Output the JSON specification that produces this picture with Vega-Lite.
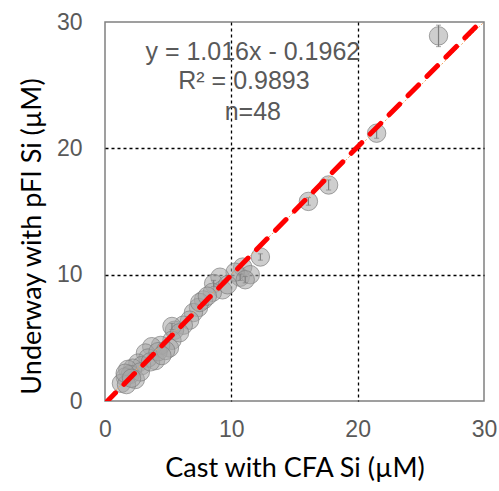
{
  "$schema": "https://vega.github.io/schema/vega-lite/v6.json",
  "width": 379,
  "height": 379,
  "autosize": {"type": "none"},
  "padding": {"left": 105, "top": 22, "right": 15, "bottom": 90},
  "background": "white",
  "config": {
    "view": {"stroke": "#808080", "strokeWidth": 1.5},
    "axis": {
      "grid": true,
      "gridColor": "#000000",
      "gridDash": [3, 3],
      "gridWidth": 1.3,
      "gridOpacity": {"condition": {"test": "datum.value == 0 || datum.value == 30", "value": 0}, "value": 1},
      "ticks": false,
      "domain": false,
      "labelFlush": false,
      "labelOverlap": false,
      "labelFont": "Liberation Sans",
      "labelFontSize": 23,
      "labelColor": "#595959",
      "titleFont": "Lato",
      "titleFontSize": 27,
      "titleFontWeight": "normal",
      "titleColor": "#000000"
    }
  },
  "datasets": {
    "pts": [
      {"cast": 26.4, "uw": 28.9, "lo": 28.05, "hi": 29.75},
      {"cast": 21.5, "uw": 21.2, "lo": 20.8, "hi": 21.6},
      {"cast": 17.7, "uw": 17.1, "lo": 16.7, "hi": 17.5},
      {"cast": 16.1, "uw": 15.8, "lo": 15.5, "hi": 16.1},
      {"cast": 12.3, "uw": 11.4, "lo": 11.15, "hi": 11.65},
      {"cast": 10.9, "uw": 10.6},
      {"cast": 10.7, "uw": 9.8, "lo": 9.55, "hi": 10.05},
      {"cast": 11.5, "uw": 10.0},
      {"cast": 10.3, "uw": 10.2},
      {"cast": 9.1, "uw": 9.8},
      {"cast": 8.6, "uw": 9.3, "lo": 9.05, "hi": 9.55},
      {"cast": 9.3, "uw": 8.8},
      {"cast": 8.5, "uw": 8.6},
      {"cast": 7.8, "uw": 8.0},
      {"cast": 7.4, "uw": 7.4},
      {"cast": 7.0, "uw": 7.0},
      {"cast": 6.7, "uw": 6.4},
      {"cast": 6.2, "uw": 6.0},
      {"cast": 5.5, "uw": 5.6},
      {"cast": 5.3, "uw": 5.9, "lo": 5.65, "hi": 6.15},
      {"cast": 5.3, "uw": 4.8},
      {"cast": 5.1, "uw": 4.2},
      {"cast": 4.4, "uw": 4.4},
      {"cast": 3.7, "uw": 4.3},
      {"cast": 3.2, "uw": 3.8},
      {"cast": 4.0, "uw": 3.2},
      {"cast": 3.4, "uw": 3.4},
      {"cast": 2.6, "uw": 3.0},
      {"cast": 2.9, "uw": 2.8},
      {"cast": 2.2, "uw": 2.6},
      {"cast": 1.8, "uw": 2.5},
      {"cast": 2.0, "uw": 2.1},
      {"cast": 1.6, "uw": 1.9},
      {"cast": 2.4, "uw": 1.7},
      {"cast": 1.3, "uw": 1.4},
      {"cast": 1.7, "uw": 1.3},
      {"cast": 2.8, "uw": 2.3},
      {"cast": 3.6, "uw": 3.1},
      {"cast": 4.2, "uw": 3.9},
      {"cast": 4.8, "uw": 4.0},
      {"cast": 4.5, "uw": 3.6},
      {"cast": 5.9, "uw": 5.4},
      {"cast": 7.5, "uw": 7.8},
      {"cast": 8.1, "uw": 8.3},
      {"cast": 9.7, "uw": 9.2},
      {"cast": 11.1, "uw": 9.6, "lo": 9.35, "hi": 9.85},
      {"cast": 1.6, "uw": 2.2},
      {"cast": 2.1, "uw": 1.8}
    ],
    "fit": [
      {"cast": 0, "uw": -0.1962},
      {"cast": 30, "uw": 30.2838}
    ],
    "one": [
      {"cast": 0, "uw": 0},
      {"cast": 30, "uw": 30}
    ],
    "note": [
      {"cast": 11.7, "uw": 27.6, "label": "y = 1.016x - 0.1962"},
      {"cast": 11.0, "uw": 25.3, "label": "R² = 0.9893"},
      {"cast": 11.7, "uw": 22.9, "label": "n=48"}
    ]
  },
  "layer": [
    {
      "data": {"name": "pts"},
      "mark": {"type": "point", "filled": true, "shape": "circle", "size": 340, "fill": "#a6a6a6", "fillOpacity": 0.55, "stroke": "#7f7f7f", "strokeOpacity": 0.7, "strokeWidth": 1},
      "encoding": {
        "x": {"field": "cast", "type": "quantitative", "scale": {"domain": [0, 30], "nice": false}, "axis": {"values": [0, 10, 20, 30], "title": "Cast with CFA Si (µM)", "labelPadding": 17, "titlePadding": 14}},
        "y": {"field": "uw", "type": "quantitative", "scale": {"domain": [0, 30], "nice": false}, "axis": {"values": [0, 10, 20, 30], "title": "Underway with pFI Si (µM)", "labelPadding": 23, "titlePadding": 10, "titleY": 214}}
      }
    },
    {
      "data": {"name": "pts"},
      "transform": [{"filter": "isValid(datum.lo)"}],
      "mark": {"type": "rule", "color": "#7f7f7f", "strokeWidth": 1.2},
      "encoding": {
        "x": {"field": "cast", "type": "quantitative"},
        "y": {"field": "lo", "type": "quantitative"},
        "y2": {"field": "hi"}
      }
    },
    {
      "data": {"name": "pts"},
      "transform": [{"filter": "isValid(datum.lo)"}],
      "mark": {"type": "tick", "orient": "horizontal", "color": "#7f7f7f", "size": 5, "thickness": 1},
      "encoding": {
        "x": {"field": "cast", "type": "quantitative"},
        "y": {"field": "lo", "type": "quantitative"}
      }
    },
    {
      "data": {"name": "pts"},
      "transform": [{"filter": "isValid(datum.hi)"}],
      "mark": {"type": "tick", "orient": "horizontal", "color": "#7f7f7f", "size": 5, "thickness": 1},
      "encoding": {
        "x": {"field": "cast", "type": "quantitative"},
        "y": {"field": "hi", "type": "quantitative"}
      }
    },
    {
      "data": {"name": "one"},
      "mark": {"type": "line", "color": "#f4a460", "strokeWidth": 1, "strokeDash": [2, 2], "clip": true},
      "encoding": {
        "x": {"field": "cast", "type": "quantitative"},
        "y": {"field": "uw", "type": "quantitative"}
      }
    },
    {
      "data": {"name": "fit"},
      "mark": {"type": "line", "color": "#ff0000", "strokeWidth": 5, "strokeDash": [15, 12], "strokeCap": "round", "clip": true},
      "encoding": {
        "x": {"field": "cast", "type": "quantitative"},
        "y": {"field": "uw", "type": "quantitative"}
      }
    },
    {
      "data": {"name": "note"},
      "mark": {"type": "text", "font": "Liberation Sans", "fontSize": 25, "color": "#595959", "align": "center", "baseline": "middle"},
      "encoding": {
        "x": {"field": "cast", "type": "quantitative"},
        "y": {"field": "uw", "type": "quantitative"},
        "text": {"field": "label"}
      }
    }
  ]
}
